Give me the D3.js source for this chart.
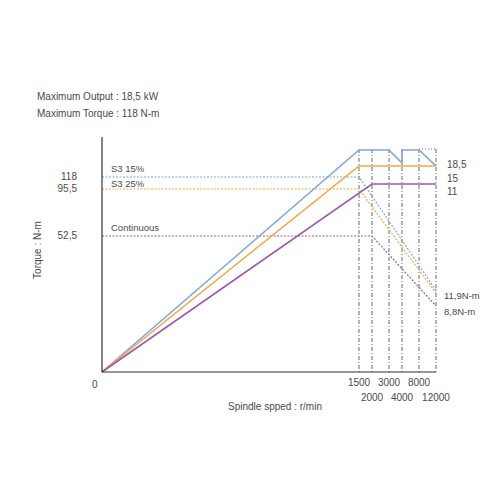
<!DOCTYPE html>
<html><head><meta charset="utf-8">
<script src="https://cdn.jsdelivr.net/npm/d3@7"></script>
<style>body{margin:0;background:#fff}text{font-family:"Liberation Sans",Arial,sans-serif;fill:#4a4a4a}</style>
</head><body><svg id="c" width="500" height="500"></svg>
<script>
// schematic chart: scales are piecewise
const speedTicks = [0, 1500, 2000, 3000, 4000, 8000, 12000];
const torqueTicks = [118, 95.5, 52.5];
const s3_15 = [[0, 0], [1500, 140], [3000, 140], [4000, 129.4], [4000, 140], [8000, 140], [12000, 127]];
const s3_25 = [[0, 0], [1500, 127], [12000, 127]];
const cont = [[0, 0], [2000, 104.9], [12000, 104.9]];
const s3_15Torque = [[0, 118], [1500, 118], [12000, 31.5]];
const s3_25Torque = [[0, 95.5], [1500, 95.5], [12000, 30.5]];
const contTorque = [[0, 52.5], [2000, 52.5], [12000, 25.5]];
const powerLabels = ["18,5", "15", "11"];

const svg = d3.select("#c");
const x = d3.scaleLinear().domain(speedTicks).range([102, 359, 372, 389, 402, 419, 436]);
const y = d3.scaleLinear().domain([0, 52.5, 95.5, 118, 140]).range([372, 236, 189, 177, 150]);
const blue = "#7ca8db", orange = "#f6a544", purple = "#9c58ad";

svg.append("text").attr("x", 37).attr("y", 100).attr("font-size", 10).text("Maximum Output : 18,5 kW");
svg.append("text").attr("x", 37).attr("y", 117).attr("font-size", 10).text("Maximum Torque : 118 N-m");

// vertical dash-dot guides
svg.selectAll(".g").data(speedTicks.slice(1)).join("line")
  .attr("x1", d => x(d)).attr("x2", d => x(d)).attr("y1", 149).attr("y2", 372)
  .attr("stroke", "#444").attr("stroke-width", 0.8).attr("stroke-dasharray", "4,2,1,2");
svg.append("line").attr("x1", x(8000)).attr("x2", x(12000)).attr("y1", 149).attr("y2", 149)
  .attr("stroke", "#444").attr("stroke-width", 0.8).attr("stroke-dasharray", "1,2");

const line = d3.line().x(d => x(d[0])).y(d => y(d[1]));
const draw = (d, c, dash) => svg.append("path").attr("d", line(d)).attr("fill", "none")
  .attr("stroke", c).attr("stroke-width", dash ? 1.2 : 1.6).attr("stroke-dasharray", dash ? "2,1.5" : null);
draw(s3_15Torque, blue, true);
draw(s3_25Torque, orange, true);
draw(contTorque, purple, true);
draw(s3_15, blue);
draw(s3_25, orange);
draw(cont, purple);

// axes
svg.append("line").attr("x1", 102).attr("x2", 102).attr("y1", 137).attr("y2", 372).attr("stroke", "#333").attr("stroke-width", 1.2);
svg.append("line").attr("x1", 102).attr("x2", 436).attr("y1", 372).attr("y2", 372).attr("stroke", "#333").attr("stroke-width", 1.2);

svg.selectAll(".yt").data(torqueTicks).join("text").attr("x", 77).attr("y", d => y(d) + 3)
  .attr("text-anchor", "end").attr("font-size", 10).text(d => String(d).replace(".", ","));
svg.append("text").attr("x", 92).attr("y", 388).attr("font-size", 10).text("0");
svg.selectAll(".xt").data(speedTicks.slice(1)).join("text")
  .attr("x", d => x(d)).attr("y", (d, i) => i % 2 ? 401 : 386)
  .attr("text-anchor", "middle").attr("font-size", 10).text(d => d);
svg.append("text").attr("x", 275).attr("y", 410).attr("text-anchor", "middle").attr("font-size", 10).text("Spindle spped : r/min");
svg.append("text").attr("transform", "translate(41,250) rotate(-90)").attr("text-anchor", "middle").attr("font-size", 10).text("Torque : N-m");

svg.append("text").attr("x", 111).attr("y", 172).attr("font-size", 9.5).text("S3 15%");
svg.append("text").attr("x", 111).attr("y", 187).attr("font-size", 9.5).text("S3 25%");
svg.append("text").attr("x", 111).attr("y", 231).attr("font-size", 9.5).text("Continuous");
svg.selectAll(".pl").data(powerLabels).join("text").attr("x", 447).attr("y", (d, i) => 168 + i * 13.5)
  .attr("font-size", 10).text(d => d);
svg.append("text").attr("x", 444).attr("y", 299).attr("font-size", 9.5).text("11,9N-m");
svg.append("text").attr("x", 444).attr("y", 315).attr("font-size", 9.5).text("8,8N-m");
</script></body></html>
